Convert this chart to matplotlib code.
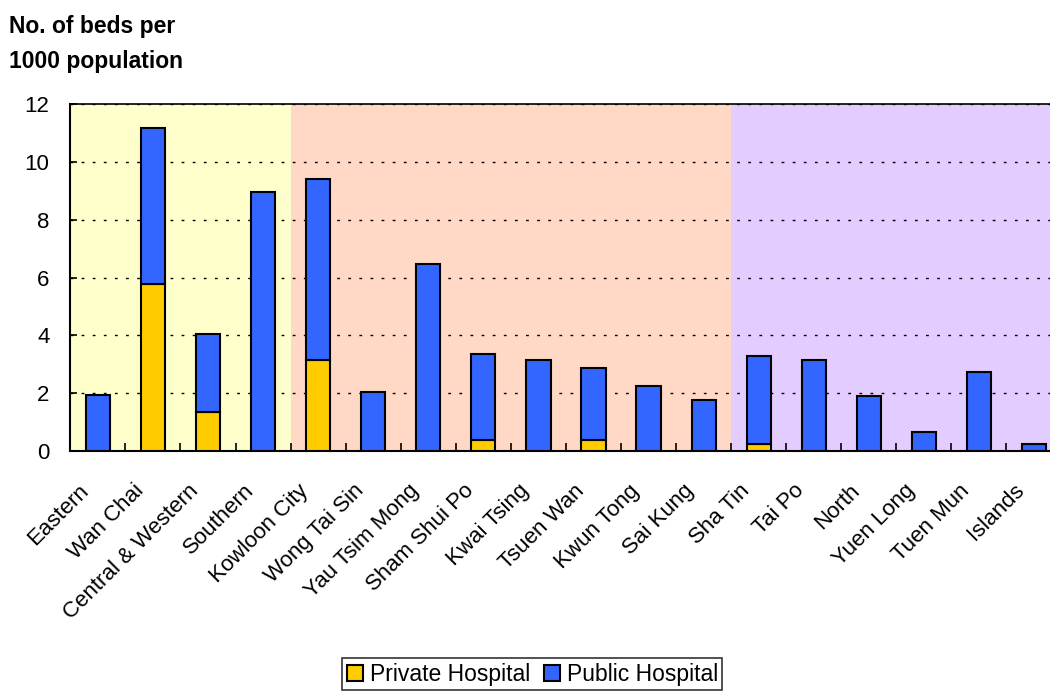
import numpy as np
import matplotlib.pyplot as plt
from matplotlib.transforms import ScaledTranslation

plt.rcParams['font.family'] = ['Liberation Sans', 'DejaVu Sans']

districts = ['Eastern', 'Wan Chai', 'Central & Western', 'Southern',
             'Kowloon City', 'Wong Tai Sin', 'Yau Tsim Mong', 'Sham Shui Po',
             'Kwai Tsing', 'Tsuen Wan', 'Kwun Tong', 'Sai Kung',
             'Sha Tin', 'Tai Po', 'North', 'Yuen Long', 'Tuen Mun', 'Islands']
# totals per district (private + public)
total = [1.94, 11.18, 4.05, 8.97, 9.39, 2.04, 6.47, 3.36, 3.16,
         2.88, 2.26, 1.76, 3.30, 3.16, 1.91, 0.67, 2.74, 0.25]
private = [0, 5.78, 1.35, 0, 3.16, 0, 0, 0.39, 0,
           0.39, 0, 0, 0.25, 0, 0, 0, 0, 0]
public = [t - p for t, p in zip(total, private)]

# region shading: HK Island / Kowloon & nearby / New Territories
regions = [(-0.5, 3.5, '#FFFFCC'), (3.5, 11.5, '#FFD9C6'), (11.5, 17.5, '#E3CCFF')]

fig = plt.figure(figsize=(10.5, 6.93), dpi=100)
# plot area runs a little past the right edge of the image, as in the original
ax = fig.add_axes([0.067, 0.349, 0.944, 0.501])

for x0, x1, c in regions:
    ax.axvspan(x0, x1, color=c, zorder=0, lw=0)

x = np.arange(len(districts))
ax.bar(x, private, width=0.44, color='#FFCC00', edgecolor='black', lw=1.5,
       label='Private Hospital', zorder=3)
ax.bar(x, public, width=0.44, bottom=private, color='#3366FF', edgecolor='black',
       lw=1.5, label='Public Hospital', zorder=3)

ax.set_xlim(-0.5, 17.5)
ax.set_ylim(0, 12)
ax.set_yticks(range(0, 13, 2))
ax.yaxis.grid(True, color='black', linestyle=(0, (2, 6)), lw=1)
for ln in ax.get_ygridlines():
    ln.set_zorder(1)

# category labels, rotated and nudged down-left like the original
ax.set_xticks(x)
ax.set_xticklabels([])
off = ScaledTranslation(-0.2, -0.29, fig.dpi_scale_trans)
for xi, name in zip(x, districts):
    ax.text(xi, 0, name, transform=ax.get_xaxis_transform() + off,
            rotation=45, ha='right', va='top', rotation_mode='anchor',
            fontsize=16)
ax.set_xticks(np.arange(0.5, 17.5, 1), minor=True)
ax.tick_params(axis='x', which='major', length=0)
ax.tick_params(axis='x', which='minor', length=6, direction='in', width=1.2)
ax.tick_params(axis='y', labelsize=16, length=5, direction='in', width=1.2,
               pad=15)

for s in ['left', 'bottom']:
    ax.spines[s].set_linewidth(1.5)
ax.spines['top'].set_linewidth(1.2)
ax.spines['right'].set_visible(False)

fig.text(0.009, 0.952, 'No. of beds per', fontsize=16.5, fontweight='bold',
         va='baseline')
fig.text(0.009, 0.902, '1000 population', fontsize=16.5, fontweight='bold',
         va='baseline')

leg = fig.legend(loc='lower center', bbox_to_anchor=(0.507, 0.004), ncol=2,
                 fontsize=16.5, frameon=True, fancybox=False, edgecolor='black',
                 handlelength=0.7, handleheight=0.7, handletextpad=0.3,
                 columnspacing=0.6, borderpad=0.2, borderaxespad=0)
leg.get_frame().set_linewidth(1.2)

fig.savefig('out.png', dpi=100)
